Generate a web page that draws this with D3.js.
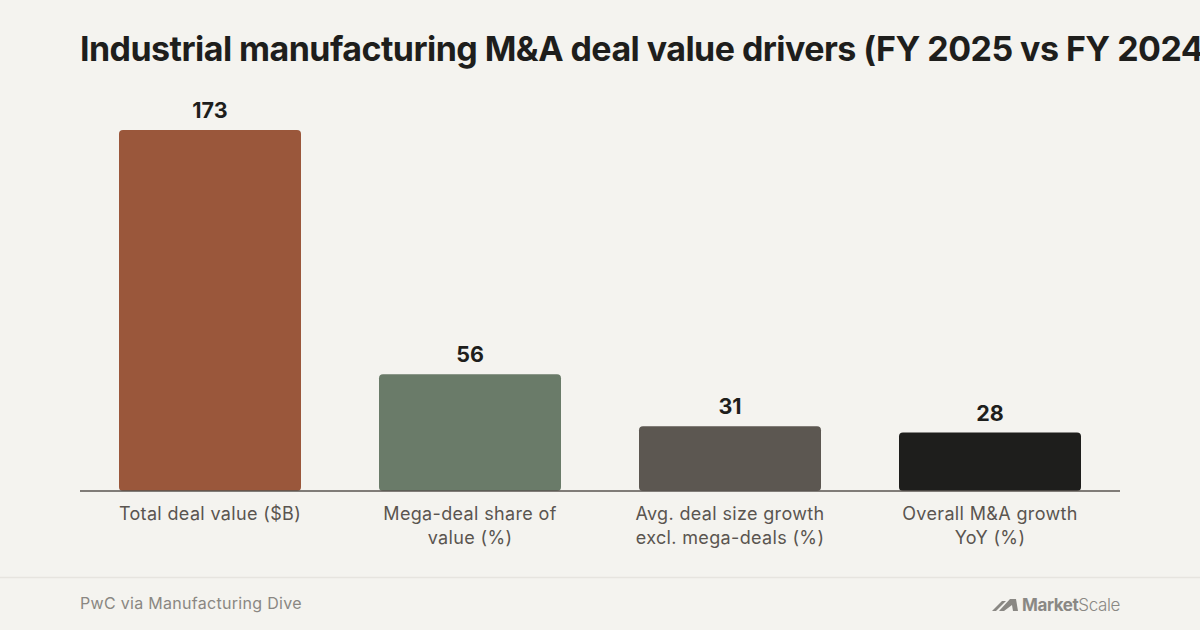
<!DOCTYPE html>
<html>
<head>
<meta charset="utf-8">
<script src="https://cdn.jsdelivr.net/npm/d3@7"></script>
<style>
  html, body { margin: 0; padding: 0; background: #f4f3ef; }
  svg { display: block; }
</style>
</head>
<body>
<svg id="chart" width="1200" height="630"></svg>
<script>
const categories = [
  ["Total deal value ($B)"],
  ["Mega-deal share of", "value (%)"],
  ["Avg. deal size growth", "excl. mega-deals (%)"],
  ["Overall M&A growth", "YoY (%)"]
];
const values = [173, 56, 31, 28];
const colors = ["#9a573b", "#6a7b69", "#5c5751", "#1e1e1c"];
const titleText = "Industrial manufacturing M&A deal value drivers (FY 2025 vs FY 2024)";
const sourceText = "PwC via Manufacturing Dive";

const svg = d3.select("#chart");
svg.append("rect").attr("width", 1200).attr("height", 630).attr("fill", "#f4f3ef");

svg.append("text")
  .attr("x", 80).attr("y", 61)
  .attr("font-family", "Inter, 'Noto Sans', sans-serif")
  .attr("font-weight", 700)
  .attr("font-size", 34)
  .attr("letter-spacing", -0.55)
  .attr("fill", "#1e1e1c")
  .text(titleText);

const x = d3.scaleBand().domain(d3.range(values.length)).range([80, 1120]).paddingInner(0.3).paddingOuter(0.15);
const y = d3.scaleLinear().domain([0, 173]).range([491, 130]);

const g = svg.append("g");
g.selectAll("rect.bar").data(values).join("rect")
  .attr("class", "bar")
  .attr("x", (d, i) => x(i))
  .attr("y", d => y(d))
  .attr("width", x.bandwidth())
  .attr("height", d => y(0) - y(d))
  .attr("rx", 4)
  .attr("fill", (d, i) => colors[i]);

g.selectAll("text.val").data(values).join("text")
  .attr("class", "val")
  .attr("x", (d, i) => x(i) + x.bandwidth() / 2)
  .attr("y", d => y(d) - 12)
  .attr("text-anchor", "middle")
  .attr("font-family", "Inter, 'Noto Sans', sans-serif")
  .attr("font-weight", 700)
  .attr("font-size", 21.5)
  .attr("fill", "#1e1e1c")
  .text(d => d3.format("d")(d));

const axis = d3.axisBottom(x).tickSize(0).tickFormat("");
const ax = svg.append("g").attr("transform", `translate(0,${y(0)})`).call(axis);
ax.select(".domain").attr("stroke", "#5a5550").attr("stroke-width", 1.6).attr("d", "M80,0H1120");

const labels = svg.append("g");
categories.forEach((lines, i) => {
  const t = labels.append("text")
    .attr("x", x(i) + x.bandwidth() / 2)
    .attr("y", 520)
    .attr("text-anchor", "middle")
    .attr("font-family", "Inter, 'Noto Sans', sans-serif")
    .attr("font-size", 18)
    .attr("letter-spacing", 0.35)
    .attr("fill", "#5a5550");
  lines.forEach((l, j) => {
    t.append("tspan").attr("x", x(i) + x.bandwidth() / 2).attr("dy", j === 0 ? 0 : 23.5).text(l);
  });
});

svg.append("line").attr("x1", 0).attr("x2", 1200).attr("y1", 577.5).attr("y2", 577.5)
  .attr("stroke", "#e6e4df").attr("stroke-width", 1.5);

svg.append("text")
  .attr("x", 80).attr("y", 609)
  .attr("font-family", "Inter, 'Noto Sans', sans-serif")
  .attr("font-size", 16)
  .attr("letter-spacing", 0.3)
  .attr("fill", "#8a8782")
  .text(sourceText);

// logo
const logo = svg.append("g").attr("transform", "translate(992,598)").attr("fill", "#8a8884");
logo.append("path").attr("d", "M0,13 L10,3 L14,3 L4,13 Z");
logo.append("path").attr("d", "M7,13 L18,1 L24,1 L26,13 L21,13 L20,7 L12,13 Z");
const lt = svg.append("text").attr("x", 1022).attr("y", 611)
  .attr("font-family", "Inter, 'Noto Sans', sans-serif").attr("font-size", 17)
  .attr("fill", "#8a8884").attr("letter-spacing", -0.4);
lt.append("tspan").attr("font-weight", 700).text("Market");
lt.append("tspan").attr("font-weight", 300).text("Scale");
</script>
</body>
</html>
